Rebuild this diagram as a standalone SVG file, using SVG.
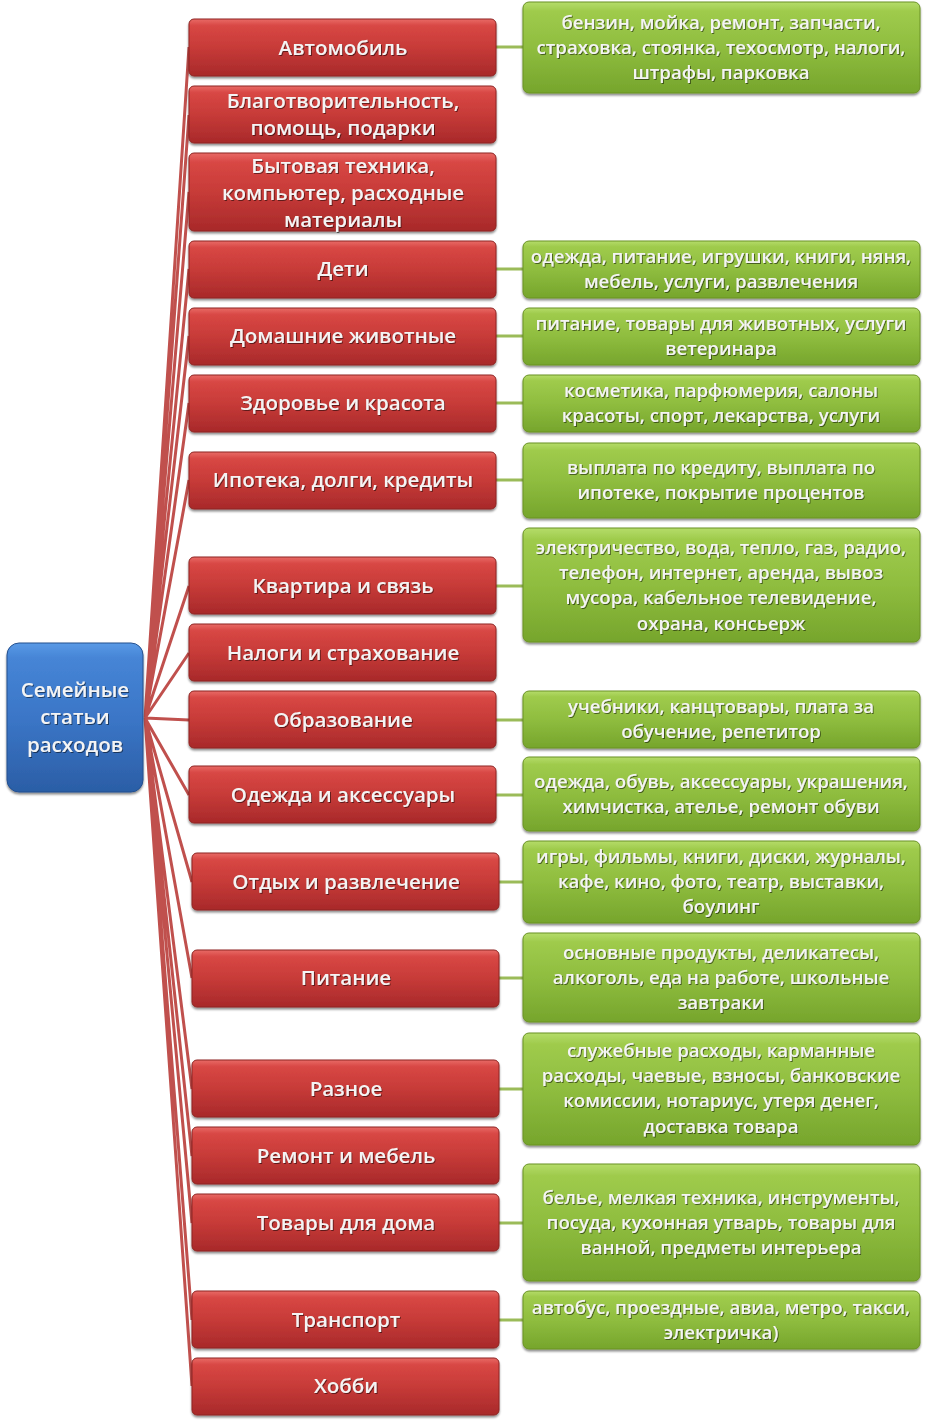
<svg xmlns="http://www.w3.org/2000/svg" width="929" height="1424" viewBox="0 0 929 1424">
<defs>
<linearGradient id="gr" x1="0" y1="0" x2="0" y2="1">
<stop offset="0" stop-color="#e86a66"/><stop offset="0.12" stop-color="#d84744"/><stop offset="0.5" stop-color="#c73b38"/><stop offset="1" stop-color="#a8292a"/>
</linearGradient>
<linearGradient id="gg" x1="0" y1="0" x2="0" y2="1">
<stop offset="0" stop-color="#b5dc6a"/><stop offset="0.1" stop-color="#9fcb4c"/><stop offset="0.5" stop-color="#8fbd3f"/><stop offset="1" stop-color="#76a52c"/>
</linearGradient>
<linearGradient id="gb" x1="0" y1="0" x2="0" y2="1">
<stop offset="0" stop-color="#5a9ae6"/><stop offset="0.1" stop-color="#4685d6"/><stop offset="0.5" stop-color="#3b76c7"/><stop offset="1" stop-color="#2b5ea6"/>
</linearGradient>
<filter id="sh" x="-5%" y="-10%" width="110%" height="130%">
<feDropShadow dx="0" dy="2" stdDeviation="1.2" flood-color="#000" flood-opacity="0.45"/>
</filter>
<filter id="ts" x="-5%" y="-20%" width="110%" height="150%">
<feDropShadow dx="1" dy="1" stdDeviation="0.6" flood-color="#000" flood-opacity="0.5"/>
</filter>
</defs>
<style>
.r{fill:url(#gr);stroke:#8e2523;stroke-width:1;filter:url(#sh)}
.g{fill:url(#gg);stroke:#6a9224;stroke-width:1;filter:url(#sh)}
.b{fill:url(#gb);stroke:#24508f;stroke-width:1;filter:url(#sh)}
text{font-family:"Open Sans","Noto Sans",sans-serif;font-weight:600;fill:#f4f4f4;text-anchor:middle;filter:url(#ts)}
.tr{font-size:20.5px}
.tg{font-size:18.6px}
.tb{font-size:20.5px}
.cr{stroke:#c0504d;stroke-width:3;fill:none}
.cg{stroke:#9bbb59;stroke-width:3;fill:none}
</style>
<g id="connectors">
<path class="cr" d="M145 718L189 47M145 718L189 115M145 718L189 192M145 718L189 269M145 718L189 336M145 718L189 403M145 718L189 480M145 718L189 586M145 718L189 653M145 718L189 720M145 718L189 795M145 718L192 882M145 718L192 978M145 718L192 1089M145 718L192 1156M145 718L192 1223M145 718L192 1320M145 718L192 1386"/>
<path class="cg" d="M496 47H523M496 269H523M496 336H523M496 403H523M496 480H523M496 586H523M496 720H523M496 795H523M499 882H523M499 978H523M499 1089H523M499 1223H523M499 1320H523"/>
</g>
<g id="root"><rect class="b" x="7" y="643" width="136" height="149" rx="12"/>
<text class="tb" x="75" y="697">Семейные</text><text class="tb" x="75" y="724">статьи</text><text class="tb" x="75" y="752">расходов</text></g>
<g id="n1"><rect class="r" x="189" y="19" width="307" height="57" rx="5"/><text class="tr" x="343" y="55">Автомобиль</text></g>
<g id="n2"><rect class="r" x="189" y="86" width="307" height="57" rx="5"/><text class="tr" x="343" y="108">Благотворительность,</text><text class="tr" x="343" y="135">помощь, подарки</text></g>
<g id="n3"><rect class="r" x="189" y="153" width="307" height="78" rx="5"/><text class="tr" x="343" y="173">Бытовая техника,</text><text class="tr" x="343" y="200">компьютер, расходные</text><text class="tr" x="343" y="227">материалы</text></g>
<g id="n4"><rect class="r" x="189" y="241" width="307" height="57" rx="5"/><text class="tr" x="343" y="276">Дети</text></g>
<g id="n5"><rect class="r" x="189" y="308" width="307" height="57" rx="5"/><text class="tr" x="343" y="343">Домашние животные</text></g>
<g id="n6"><rect class="r" x="189" y="375" width="307" height="57" rx="5"/><text class="tr" x="343" y="410">Здоровье и красота</text></g>
<g id="n7"><rect class="r" x="189" y="452" width="307" height="57" rx="5"/><text class="tr" x="343" y="487">Ипотека, долги, кредиты</text></g>
<g id="n8"><rect class="r" x="189" y="557" width="307" height="57" rx="5"/><text class="tr" x="343" y="593">Квартира и связь</text></g>
<g id="n9"><rect class="r" x="189" y="624" width="307" height="57" rx="5"/><text class="tr" x="343" y="660">Налоги и страхование</text></g>
<g id="n10"><rect class="r" x="189" y="691" width="307" height="57" rx="5"/><text class="tr" x="343" y="727">Образование</text></g>
<g id="n11"><rect class="r" x="189" y="766" width="307" height="57" rx="5"/><text class="tr" x="343" y="802">Одежда и аксессуары</text></g>
<g id="n12"><rect class="r" x="192" y="853" width="307" height="57" rx="5"/><text class="tr" x="346" y="889">Отдых и развлечение</text></g>
<g id="n13"><rect class="r" x="192" y="950" width="307" height="57" rx="5"/><text class="tr" x="346" y="985">Питание</text></g>
<g id="n14"><rect class="r" x="192" y="1060" width="307" height="57" rx="5"/><text class="tr" x="346" y="1096">Разное</text></g>
<g id="n15"><rect class="r" x="192" y="1127" width="307" height="57" rx="5"/><text class="tr" x="346" y="1163">Ремонт и мебель</text></g>
<g id="n16"><rect class="r" x="192" y="1194" width="307" height="57" rx="5"/><text class="tr" x="346" y="1230">Товары для дома</text></g>
<g id="n17"><rect class="r" x="192" y="1291" width="307" height="57" rx="5"/><text class="tr" x="346" y="1327">Транспорт</text></g>
<g id="n18"><rect class="r" x="192" y="1358" width="307" height="57" rx="5"/><text class="tr" x="346" y="1393">Хобби</text></g>
<g id="d1"><rect class="g" x="523" y="2" width="397" height="91" rx="6"/><text class="tg" x="721" y="29">бензин, мойка, ремонт, запчасти,</text><text class="tg" x="721" y="54">страховка, стоянка, техосмотр, налоги,</text><text class="tg" x="721" y="79">штрафы, парковка</text></g>
<g id="d4"><rect class="g" x="523" y="241" width="397" height="57" rx="6"/><text class="tg" x="721" y="263">одежда, питание, игрушки, книги, няня,</text><text class="tg" x="721" y="288">мебель, услуги, развлечения</text></g>
<g id="d5"><rect class="g" x="523" y="308" width="397" height="57" rx="6"/><text class="tg" x="721" y="330">питание, товары для животных, услуги</text><text class="tg" x="721" y="355">ветеринара</text></g>
<g id="d6"><rect class="g" x="523" y="375" width="397" height="57" rx="6"/><text class="tg" x="721" y="397">косметика, парфюмерия, салоны</text><text class="tg" x="721" y="422">красоты, спорт, лекарства, услуги</text></g>
<g id="d7"><rect class="g" x="523" y="443" width="397" height="75" rx="6"/><text class="tg" x="721" y="474">выплата по кредиту, выплата по</text><text class="tg" x="721" y="499">ипотеке, покрытие процентов</text></g>
<g id="d8"><rect class="g" x="523" y="528" width="397" height="114" rx="6"/><text class="tg" x="721" y="554">электричество, вода, тепло, газ, радио,</text><text class="tg" x="721" y="579">телефон, интернет, аренда, вывоз</text><text class="tg" x="721" y="604">мусора, кабельное телевидение,</text><text class="tg" x="721" y="630">охрана, консьерж</text></g>
<g id="d10"><rect class="g" x="523" y="691" width="397" height="57" rx="6"/><text class="tg" x="721" y="713">учебники, канцтовары, плата за</text><text class="tg" x="721" y="738">обучение, репетитор</text></g>
<g id="d11"><rect class="g" x="523" y="757" width="397" height="74" rx="6"/><text class="tg" x="721" y="788">одежда, обувь, аксессуары, украшения,</text><text class="tg" x="721" y="813">химчистка, ателье, ремонт обуви</text></g>
<g id="d12"><rect class="g" x="523" y="841" width="397" height="82" rx="6"/><text class="tg" x="721" y="863">игры, фильмы, книги, диски, журналы,</text><text class="tg" x="721" y="888">кафе, кино, фото, театр, выставки,</text><text class="tg" x="721" y="913">боулинг</text></g>
<g id="d13"><rect class="g" x="523" y="933" width="397" height="89" rx="6"/><text class="tg" x="721" y="959">основные продукты, деликатесы,</text><text class="tg" x="721" y="984">алкоголь, еда на работе, школьные</text><text class="tg" x="721" y="1009">завтраки</text></g>
<g id="d14"><rect class="g" x="523" y="1033" width="397" height="112" rx="6"/><text class="tg" x="721" y="1057">служебные расходы, карманные</text><text class="tg" x="721" y="1082">расходы, чаевые, взносы, банковские</text><text class="tg" x="721" y="1107">комиссии, нотариус, утеря денег,</text><text class="tg" x="721" y="1133">доставка товара</text></g>
<g id="d16"><rect class="g" x="523" y="1164" width="397" height="117" rx="6"/><text class="tg" x="721" y="1204">белье, мелкая техника, инструменты,</text><text class="tg" x="721" y="1229">посуда, кухонная утварь, товары для</text><text class="tg" x="721" y="1254">ванной, предметы интерьера</text></g>
<g id="d17"><rect class="g" x="523" y="1291" width="397" height="58" rx="6"/><text class="tg" x="721" y="1314">автобус, проездные, авиа, метро, такси,</text><text class="tg" x="721" y="1339">электричка)</text></g>
</svg>
